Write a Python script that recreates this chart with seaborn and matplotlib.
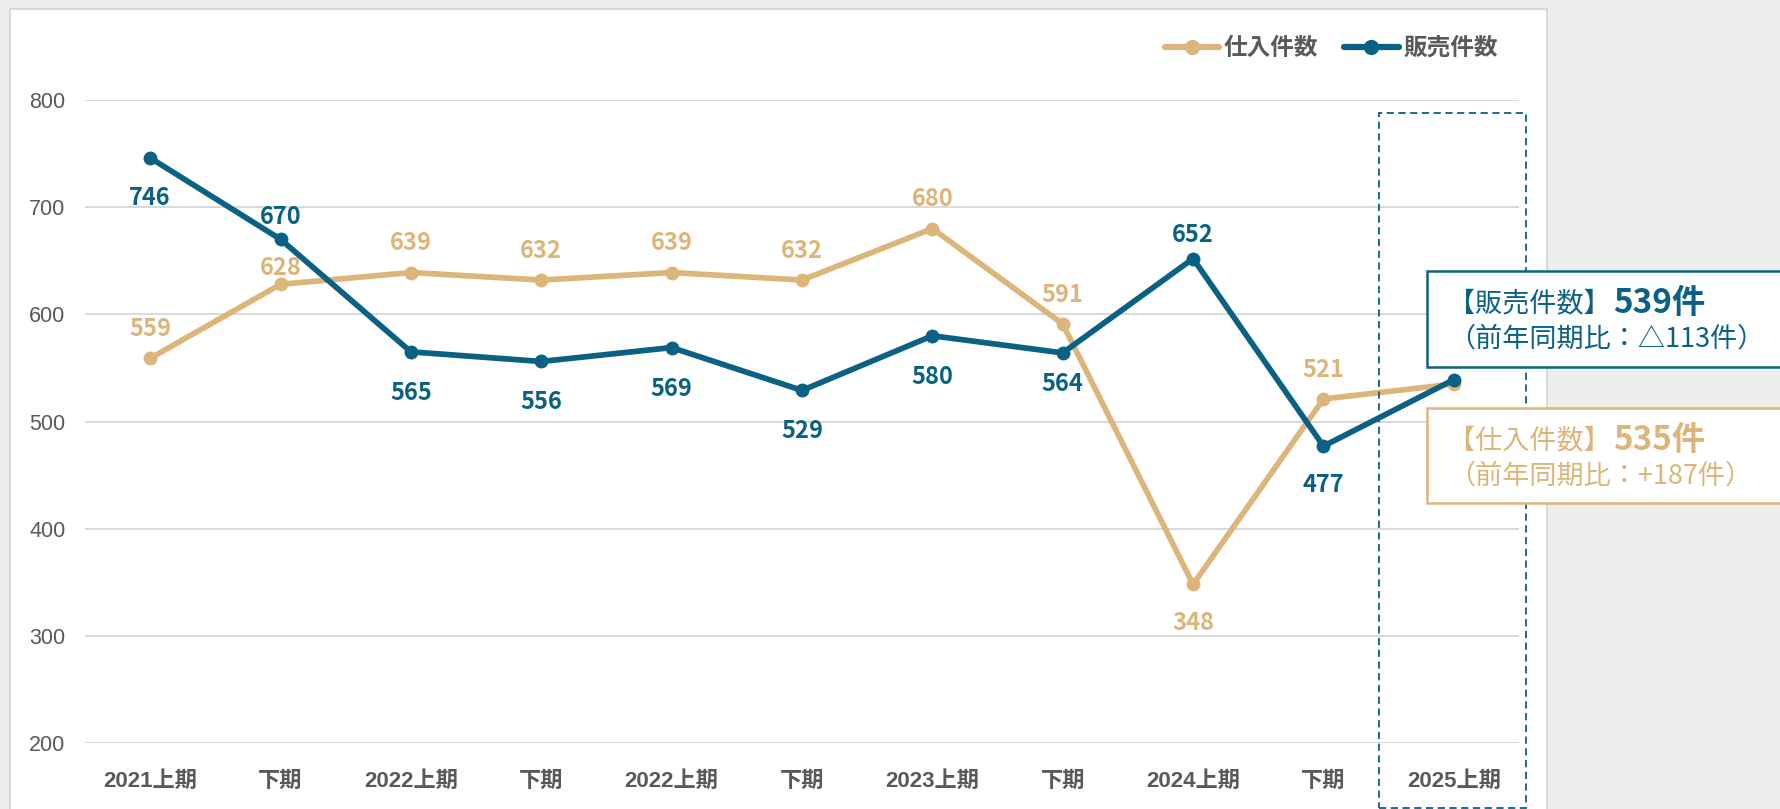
import numpy as np
import pandas as pd
import matplotlib
matplotlib.use("Agg")
import matplotlib.pyplot as plt
import seaborn as sns
from matplotlib.patches import Rectangle
from matplotlib.lines import Line2D

PERIODS = ["2021上期", "下期", "2022上期", "下期", "2022上期", "下期",
           "2023上期", "下期", "2024上期", "下期", "2025上期"]
PURCHASE = [559, 628, 639, 632, 639, 632, 680, 591, 348, 521, 535]
SALES = [746, 670, 565, 556, 569, 529, 580, 564, 652, 477, 539]
Y_TICKS = [200, 300, 400, 500, 600, 700, 800]

# label offsets in points (positive = above); None = no label (callout instead)
PURCHASE_OFFS = [21, 11.5, 21, 21, 21, 21, 21, 21, -28, 21, None]
SALES_OFFS = [-29, 16, -29.5, -29.5, -29.5, -29.5, -29.5, -22.5, 17, -28, None]

GOLD = "#dcb57a"
BLUE = "#0a6183"
GRAY_TXT = "#595959"
GRID = "#d9d9d9"
BG = "#eceeed"
JP = ["Noto Sans CJK JP", "DejaVu Sans"]

W, H = 1780, 809


def fx(x):
    return x / W


def fy(y):
    return 1 - y / H


sns.set_theme(style="white")
plt.rcParams["font.family"] = JP

df = pd.DataFrame({
    "x": list(range(len(PERIODS))) * 2,
    "value": PURCHASE + SALES,
    "series": ["仕入件数"] * len(PURCHASE) + ["販売件数"] * len(SALES),
})

fig = plt.figure(figsize=(W / 100, H / 100), dpi=100)
fig.patch.set_facecolor(BG)

# white card
fig.patches.append(Rectangle((fx(10), fy(830)), fx(1547) - fx(10), fy(9) - fy(830),
                             transform=fig.transFigure, facecolor="white",
                             edgecolor=GRID, lw=1.5, zorder=-10))

ax = fig.add_axes([fx(85), fy(743), fx(1519) - fx(85), fy(100) - fy(743)])
ax.patch.set_visible(False)

sns.lineplot(data=df, x="x", y="value", hue="series",
             palette={"仕入件数": GOLD, "販売件数": BLUE},
             hue_order=["仕入件数", "販売件数"],
             marker="o", markersize=10, markeredgewidth=0, linewidth=4.1,
             sort=False, legend=False, ax=ax, clip_on=False)

ax.set_xlim(-0.5, 10.5)
ax.set_ylim(200, 800)
ax.set_yticks(Y_TICKS)
ax.set_xticks(range(len(PERIODS)))
ax.set_xticklabels(PERIODS, fontsize=16, fontweight="bold", color=GRAY_TXT,
                   family=["Liberation Sans", "Noto Sans CJK JP"])
ax.set_yticklabels([str(t) for t in Y_TICKS], fontsize=15.5, color=GRAY_TXT,
                   family=["Liberation Sans"])
ax.tick_params(axis="x", length=0, pad=20)
ax.tick_params(axis="y", length=0, pad=14)
ax.grid(axis="y", color=GRID, lw=1.4)
ax.set_axisbelow(True)
ax.set_xlabel("")
ax.set_ylabel("")
for s in ax.spines.values():
    s.set_visible(False)

for vals, offs, col in [(PURCHASE, PURCHASE_OFFS, GOLD), (SALES, SALES_OFFS, BLUE)]:
    for i, (v, o) in enumerate(zip(vals, offs)):
        if o is None:
            continue
        ax.annotate(str(v), (i, v), xytext=(0, o), textcoords="offset points",
                    ha="center", va="center", fontsize=17, fontweight="bold",
                    color=col, zorder=6)

# legend
handles = [Line2D([], [], color=GOLD, lw=4.5, marker="o", ms=10),
           Line2D([], [], color=BLUE, lw=4.5, marker="o", ms=10)]
leg = fig.legend(handles, ["仕入件数", "販売件数"], loc="center right",
                 bbox_to_anchor=(fx(1519), fy(48)), ncol=2, frameon=False,
                 handlelength=2.3, handletextpad=0.2, columnspacing=1.1,
                 numpoints=1, prop={"family": JP, "size": 17, "weight": "bold"})
for t in leg.get_texts():
    t.set_color(GRAY_TXT)

# highlight box around latest period
fig.patches.append(Rectangle((fx(1379), fy(808)), fx(1526) - fx(1379), fy(113) - fy(808),
                             transform=fig.transFigure, fill=False, edgecolor=BLUE,
                             lw=1.3, linestyle=(0, (4, 2.5)), zorder=5))

# callouts
fig.canvas.draw()
renderer = fig.canvas.get_renderer()
callouts = [
    ("販売件数", SALES, BLUE, 271, 367),
    ("仕入件数", PURCHASE, GOLD, 408, 503),
]
for name, vals, col, top, bot in callouts:
    fig.patches.append(Rectangle((fx(1427), fy(bot)), fx(1800) - fx(1427), fy(top) - fy(bot),
                                 transform=fig.transFigure, facecolor="white",
                                 edgecolor=col, lw=1.8, zorder=8))
    diff = vals[-1] - vals[-3]
    sign = "+" if diff >= 0 else "△"
    cy1 = top + 33
    cy2 = top + 68
    t1 = fig.text(fx(1448), fy(cy1), f"【{name}】", fontsize=19.5, color=col,
                  va="center", ha="left", zorder=9)
    ext = t1.get_window_extent(renderer)
    fig.text(ext.x1 / W + fx(2), fy(cy1 - 1), f"{vals[-1]}件", fontsize=24,
             fontweight="bold", color=col, va="center", ha="left", zorder=9)
    fig.text(fx(1448), fy(cy2), f"（前年同期比：{sign}{abs(diff)}件）", fontsize=19.5,
             color=col, va="center", ha="left", zorder=9)

fig.savefig("out.png", dpi=100, facecolor=BG)
